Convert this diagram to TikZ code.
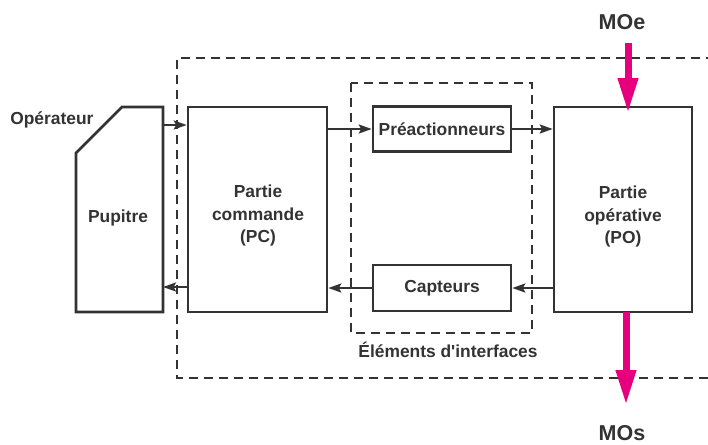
\documentclass[tikz,border=0pt]{standalone}
\usepackage{fontspec}
\setmainfont{Liberation Sans}
\usetikzlibrary{arrows.meta}
\definecolor{ink}{HTML}{333333}
\definecolor{mag}{HTML}{E6007E}
\begin{document}
\begin{tikzpicture}[x=1pt,y=-1pt,
  every node/.style={text=ink,font=\fontsize{17.4}{22.5}\selectfont\bfseries,align=center},
  blockbox/.style={draw=ink,line width=2.6pt,inner sep=0pt},
  frame/.style={draw=ink,line width=2.6pt,dash pattern=on 9pt off 6pt},
  flow/.style={draw=ink,line width=2.4pt,-{Stealth[length=13pt,width=9pt,inset=2.5pt]}},
  matter/.style={draw=mag,line width=7pt,-{Triangle[length=35pt,width=19pt]}},
  biglabel/.style={font=\fontsize{21.5}{24}\selectfont\bfseries}]
\useasboundingbox (0,0) rectangle (708,444);
\fill[white] (0,0) rectangle (708,444);

% dashed boundaries: whole system and interface elements
\draw[frame] (715,58) -- (177,58) -- (177,378) -- (715,378);
\draw[frame] (351,83) rectangle (532,333);

% operator desk
\draw[draw=ink,line width=2.6pt,line join=miter]
  (76,312) -- (76,153) -- (122,107) -- (163,107) -- (163,312) -- cycle;
\node (pup) at (118,218) {Pupitre};
\node[anchor=east] (op) at (97,120) {Opérateur};

% main blocks
\node[blockbox,minimum width=139pt,minimum height=205pt] (pc) at (257.5,209.5) {};
\node (pctext) at (258,215.5) {Partie\\commande\\(PC)};
\node[blockbox,minimum width=138pt,minimum height=205pt] (po) at (623,209.5) {};
\node (potext) at (623,216.5) {Partie\\opérative\\(PO)};
\node[blockbox,minimum width=138pt,minimum height=45pt] (pre) at (442,129) {Préactionneurs};
\node[blockbox,minimum width=138pt,minimum height=46pt] (cap) at (442,288) {Capteurs};
\node (iface) at (448,350) {Éléments d\textquotesingle interfaces};

% information flows
\coordinate (pupIn) at (163,125);
\coordinate (pupOut) at (163,287);
\draw[flow] (pupIn) -- (pc.west |- pupIn);
\draw[flow] (pc.east |- pre.west) -- (pre.west);
\draw[flow] (pre.east) -- (po.west |- pre.east);
\draw[flow] (po.west |- cap.east) -- (cap.east);
\draw[flow] (cap.west) -- (pc.east |- cap.west);
\draw[flow] (pc.west |- pupOut) -- (pupOut);

% matter in / matter out
\node[biglabel] (moe) at (622,22) {MOe};
\node[biglabel] (mos) at (622,433) {MOs};
\coordinate (moeStart) at (628,43);
\coordinate (moeTip) at (628,113);
\coordinate (mosStart) at (626,312);
\coordinate (mosTip) at (626,405);
\draw[matter] (moeStart) -- (moeTip);
\draw[matter] (mosStart) -- (mosTip);
\end{tikzpicture}
\end{document}
